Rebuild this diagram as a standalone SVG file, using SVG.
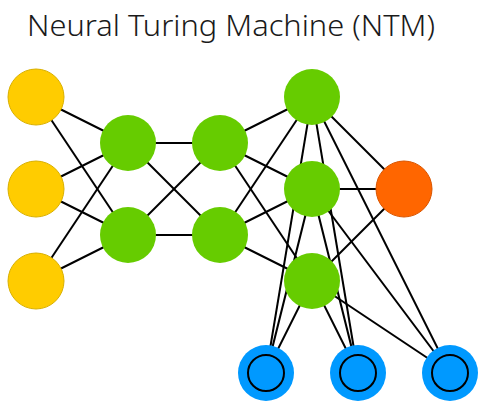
<svg xmlns="http://www.w3.org/2000/svg" width="483" height="409" viewBox="0 0 483 409">
<style>
.t{font-family:"Noto Sans","Open Sans","DejaVu Sans",sans-serif;font-size:29px;fill:#1a1a1a;font-weight:300}
.e line{stroke:#000;stroke-width:2}
.y{fill:#FFCC00;stroke:#D9B000;stroke-width:1}
.g{fill:#66CC00}
.o{fill:#FF6600;stroke:#D95500;stroke-width:1}
.b{fill:#0099FF}
.bi{fill:#0099FF;stroke:#000;stroke-width:2}
</style>
<rect width="483" height="409" fill="#fff"/>
<text class="t" x="27" y="36" textLength="408" lengthAdjust="spacingAndGlyphs">Neural Turing Machine (NTM)</text>
<g class="e" id="connectors">
<line x1="36" y1="97" x2="128" y2="143"/>
<line x1="36" y1="97" x2="128" y2="235"/>
<line x1="36" y1="189" x2="128" y2="143"/>
<line x1="36" y1="189" x2="128" y2="235"/>
<line x1="36" y1="281" x2="128" y2="143"/>
<line x1="36" y1="281" x2="128" y2="235"/>
<line x1="128" y1="143" x2="220" y2="143"/>
<line x1="128" y1="143" x2="220" y2="235"/>
<line x1="128" y1="235" x2="220" y2="143"/>
<line x1="128" y1="235" x2="220" y2="235"/>
<line x1="220" y1="143" x2="312" y2="97"/>
<line x1="220" y1="143" x2="312" y2="189"/>
<line x1="220" y1="143" x2="312" y2="281"/>
<line x1="220" y1="235" x2="312" y2="97"/>
<line x1="220" y1="235" x2="312" y2="189"/>
<line x1="220" y1="235" x2="312" y2="281"/>
<line x1="312" y1="97" x2="404" y2="189"/>
<line x1="312" y1="189" x2="404" y2="189"/>
<line x1="312" y1="281" x2="404" y2="189"/>
<line x1="312" y1="97" x2="266" y2="373"/>
<line x1="312" y1="97" x2="358" y2="373"/>
<line x1="312" y1="97" x2="450" y2="373"/>
<line x1="312" y1="189" x2="266" y2="373"/>
<line x1="312" y1="189" x2="358" y2="373"/>
<line x1="312" y1="189" x2="450" y2="373"/>
<line x1="312" y1="281" x2="266" y2="373"/>
<line x1="312" y1="281" x2="358" y2="373"/>
<line x1="312" y1="281" x2="450" y2="373"/>
</g>
<g id="in1"><circle class="y" cx="36" cy="97" r="28"/></g>
<g id="in2"><circle class="y" cx="36" cy="189" r="28"/></g>
<g id="in3"><circle class="y" cx="36" cy="281" r="28"/></g>
<g id="h1a"><circle class="g" cx="128" cy="143" r="28"/></g>
<g id="h1b"><circle class="g" cx="128" cy="235" r="28"/></g>
<g id="h2a"><circle class="g" cx="220" cy="143" r="28"/></g>
<g id="h2b"><circle class="g" cx="220" cy="235" r="28"/></g>
<g id="h3a"><circle class="g" cx="312" cy="97" r="28"/></g>
<g id="h3b"><circle class="g" cx="312" cy="189" r="28"/></g>
<g id="h3c"><circle class="g" cx="312" cy="281" r="28"/></g>
<g id="out"><circle class="o" cx="404" cy="189" r="28"/></g>
<g id="mem1"><circle class="b" cx="266" cy="373" r="28"/><circle class="bi" cx="266" cy="373" r="18"/></g>
<g id="mem2"><circle class="b" cx="358" cy="373" r="28"/><circle class="bi" cx="358" cy="373" r="18"/></g>
<g id="mem3"><circle class="b" cx="450" cy="373" r="28"/><circle class="bi" cx="450" cy="373" r="18"/></g>
</svg>
